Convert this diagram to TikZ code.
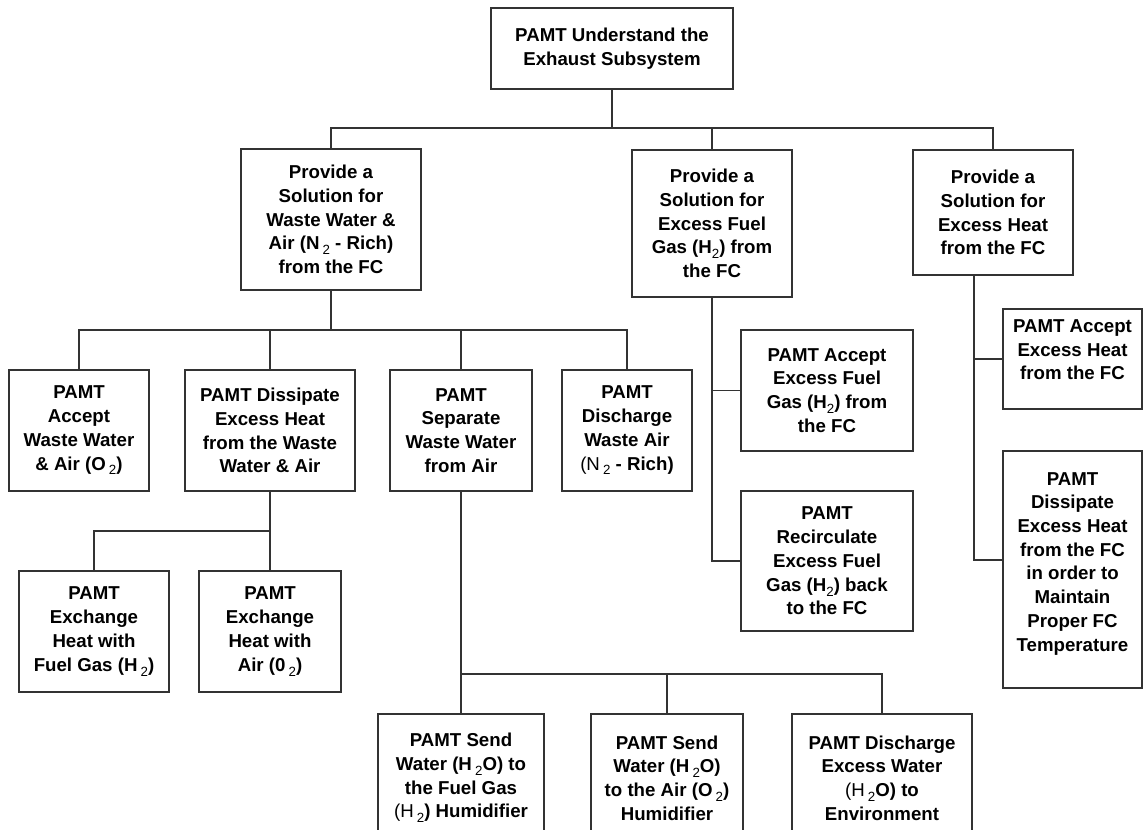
\documentclass[tikz,border=0pt]{standalone}
\usepackage{fontspec}
\setmainfont{Liberation Sans}
\newcommand\tsub[1]{\raisebox{-0.5ex}{\fontsize{10pt}{10pt}\selectfont\mdseries #1}}
\tikzset{
  box/.style={draw=black!80, line width=1.05pt, fill=white, inner sep=0pt, align=center,
    font={\fontsize{14pt}{17.8pt}\selectfont\bfseries}},
  conn/.style={draw=black!80, line width=1.05pt}
}
% name, left, top, right, bottom, text
\newcommand\bx[6]{%
  \node[box, minimum width={(#4-#2)*0.75pt}, minimum height={(#5-#3)*0.75pt}]
    (#1) at ({(#2+#4)/2},{(#3+#5)/2}) {#6};}
\begin{document}
\begin{tikzpicture}[x=0.75pt,y=-0.75pt]
\useasboundingbox (0,0) rectangle (1145,829);
\fill[white] (0,0) rectangle (1145,829);
\clip (0,0) rectangle (1145,829);
% bus levels
\coordinate (b1) at (0,128);
\coordinate (b2) at (0,330);
\coordinate (b3) at (0,531);
\coordinate (b4) at (0,674);
\coordinate (hy) at (0,560);
\coordinate (rtop) at (974,275);

\bx{root}{491}{8}{733}{89}{PAMT Understand the\\Exhaust Subsystem}
\bx{l1a}{241}{149}{421}{290}{Provide a\\Solution for\\Waste Water \&\\Air (N\,\tsub{2} - Rich)\\from the FC}
\bx{l1b}{632}{150}{792}{297}{Provide a\\Solution for\\Excess Fuel\\Gas (H\tsub{2}) from\\the FC}
\bx{l1c}{913}{150}{1073}{275}{Provide a\\Solution for\\Excess Heat\\from the FC}

\bx{l2a}{9}{370}{149}{491}{PAMT\\Accept\\Waste Water\\\& Air (O\,\tsub{2})}
\bx{l2b}{185}{370}{355}{491}{PAMT Dissipate\\Excess Heat\\from the Waste\\Water \& Air}
\bx{l2c}{390}{370}{532}{491}{PAMT\\Separate\\Waste Water\\from Air}
\bx{l2d}{562}{370}{692}{491}{PAMT\\Discharge\\Waste Air\\{\mdseries(N}\,\tsub{2} - Rich)}

\bx{l2e}{741}{330}{913}{451}{PAMT Accept\\Excess Fuel\\Gas (H\tsub{2}) from\\the FC}
\bx{l2f}{741}{491}{913}{631}{PAMT\\Recirculate\\Excess Fuel\\Gas (H\tsub{2}) back\\to the FC}

\bx{l2g}{1003}{309}{1142}{409}{PAMT Accept\\Excess Heat\\from the FC\\[-4pt]\mbox{}}
\bx{l2h}{1003}{451}{1142}{688}{PAMT\\Dissipate\\Excess Heat\\from the FC\\in order to\\Maintain\\Proper FC\\Temperature\\[-6pt]\mbox{}}

\bx{l3i}{19}{571}{169}{692}{PAMT\\Exchange\\Heat with\\Fuel Gas (H\,\tsub{2})}
\bx{l3j}{199}{571}{341}{692}{PAMT\\Exchange\\Heat with\\Air (0\,\tsub{2})}

\bx{l4k}{378}{714}{544}{842}{PAMT Send\\Water (H\,\tsub{2}O) to\\the Fuel Gas\\{\mdseries(H}\,\tsub{2}) Humidifier}
\bx{l4l}{591}{714}{743}{842}{PAMT Send\\Water (H\,\tsub{2}O)\\to the Air (O\,\tsub{2})\\Humidifier}
\bx{l4m}{792}{714}{972}{842}{PAMT Discharge\\Excess Water\\{\mdseries(H}\,\tsub{2}O) to\\Environment}

% connectors
\draw[conn] (root.south) -- (root.south |- b1);
\draw[conn] (l1a.north) |- (b1 -| l1c.north) -- (l1c.north);
\draw[conn] (l1b.north) -- (l1b.north |- b1);

\draw[conn] (l1a.south) -- (l1a.south |- b2);
\draw[conn] (l2a.north) |- (b2 -| l2d.north) -- (l2d.north);
\draw[conn] (l2b.north) -- (l2b.north |- b2);
\draw[conn] (l2c.north) -- (l2c.north |- b2);

\draw[conn] (l1b.south) |- (l2f.west);
\draw[conn] (l1b.south |- l2e.west) -- (l2e.west);

\draw[conn] (rtop) |- (hy -| l2h.west);
\draw[conn] (rtop |- l2g.west) -- (l2g.west);

\draw[conn] (l2b.south) |- (b3 -| l3i.north) -- (l3i.north);
\draw[conn] (l3j.north) -- (l3j.north |- b3);

\draw[conn] (l2c.south) |- (b4 -| l4m.north) -- (l4m.north);
\draw[conn] (l4k.north) -- (l4k.north |- b4);
\draw[conn] (l4l.north) -- (l4l.north |- b4);
\end{tikzpicture}
\end{document}
